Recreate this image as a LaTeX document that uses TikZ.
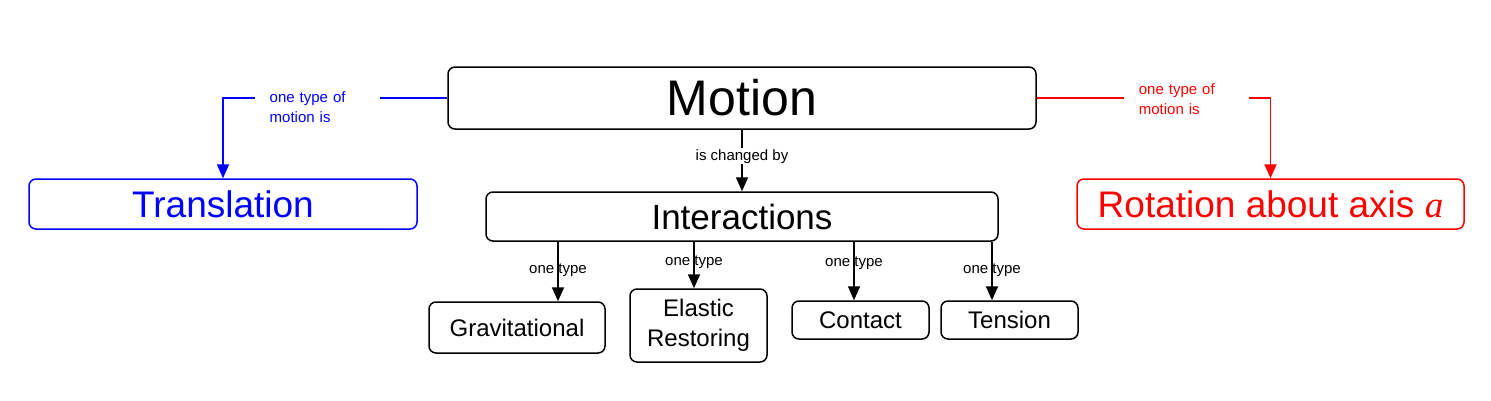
\documentclass[tikz,border=0pt]{standalone}
\usepackage{fontspec}
\setmainfont{Liberation Sans}
\newfontfamily\axisfont{Liberation Serif}
\usetikzlibrary{arrows.meta,positioning}

\begin{document}
\begin{tikzpicture}[
    x=1pt, y=-1pt,
    concept/.style={
      rectangle, draw=black, line width=1.5pt, rounded corners=7pt,
      inner sep=0pt, align=center
    },
    link/.style={line width=1.8pt},
    arrow/.style={link, -{Triangle[length=14pt,width=12pt]}},
    linklabel/.style={font=\fontsize{15}{18}\selectfont, inner sep=1pt},
    sidelabel/.style={
      font=\fontsize{15}{20}\selectfont, fill=white, align=left,
      text width=95pt, inner xsep=15pt, inner ysep=2pt
    }
  ]
  \useasboundingbox (0,0) rectangle (1491,400);
  % top concept
  \node[concept, minimum width=588pt, minimum height=62pt,
    font=\fontsize{50}{60}\selectfont] (motion) at (742,98) {Motion};
  % kinds of motion
  \node[concept, draw=blue, text=blue, minimum width=388pt, minimum height=50pt,
    font=\fontsize{37}{44}\selectfont] (trans) at (223,204) {Translation};
  \node[concept, draw=red, text=red, minimum width=387pt, minimum height=50pt,
    font=\fontsize{37}{44}\selectfont] (rot) at (1270.5,204)
    {Rotation about axis {\axisfont\itshape a}};
  % interactions
  \node[concept, minimum width=512pt, minimum height=49pt,
    font=\fontsize{35}{42}\selectfont] (inter) at (742,216.5) {Interactions};
  \node[concept, minimum width=176pt, minimum height=51pt,
    font=\fontsize{24}{30}\selectfont] (grav) at (517,327.5) {Gravitational};
  \node[concept, minimum width=137pt, minimum height=73pt,
    font=\fontsize{24}{30}\selectfont] (elastic) at (698.5,325.5) {Elastic\\Restoring};
  \node[concept, minimum width=137pt, minimum height=38pt,
    font=\fontsize{24}{30}\selectfont] (contact) at (860.5,320) {Contact};
  \node[concept, minimum width=137pt, minimum height=38pt,
    font=\fontsize{24}{30}\selectfont] (tension) at (1009.5,320) {Tension};
  % Arrows
  \draw[arrow] (motion) -- node[linklabel, fill=white, pos=0.43] {is changed by} (inter);
  \draw[arrow, blue] (motion.west) -| node[sidelabel, text=blue, pos=0.29, yshift=-9pt]
    {one type of motion is} (trans);
  \draw[arrow, red] (motion.east) -| node[sidelabel, text=red, pos=0.32, yshift=-1pt]
    {one type of motion is} (rot);
  \foreach \x/\child/\ly in {558/grav/270, 694/elastic/262, 854/contact/263, 992/tension/270} {
    \coordinate (top) at (\x,0);
    \draw[arrow] (top |- inter.south) -- (top |- \child.north);
    \node[linklabel] at (\x,\ly) {one type};
  }
\end{tikzpicture}
\end{document}
